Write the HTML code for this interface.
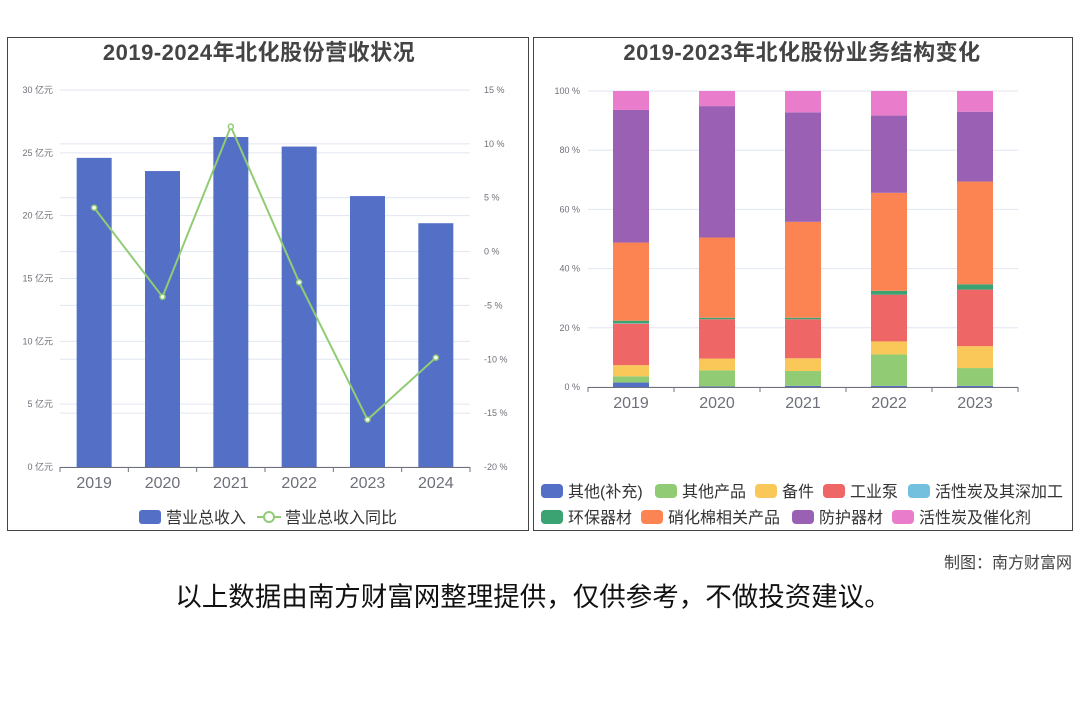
<!DOCTYPE html>
<html><head><meta charset="utf-8">
<style>
body{margin:0;background:#fff;width:1080px;height:720px;overflow:hidden;font-family:"Liberation Sans","Noto Sans CJK SC",sans-serif;}
svg text{font-family:"Liberation Sans","Noto Sans CJK SC",sans-serif;}
</style></head>
<body>
<svg width="1080" height="720" xmlns="http://www.w3.org/2000/svg">
<rect x="7.5" y="37.5" width="521" height="493" fill="none" stroke="#444"/>
<rect x="533.5" y="37.5" width="539" height="493" fill="none" stroke="#444"/>
<text x="259" y="60" text-anchor="middle" font-size="22" font-weight="bold" fill="#444" letter-spacing="0.5">2019-2024年北化股份营收状况</text>
<text x="802" y="60" text-anchor="middle" font-size="22" font-weight="bold" fill="#444" letter-spacing="0.5">2019-2023年北化股份业务结构变化</text>
<g id="left"></g>
<g id="right"></g>
<text x="1072" y="568" text-anchor="end" font-size="16" fill="#444">制图：南方财富网</text>
<text x="533" y="606" text-anchor="middle" font-size="26.5" fill="#111">以上数据由南方财富网整理提供，仅供参考，不做投资建议。</text>
</svg>
<script>
const NS="http://www.w3.org/2000/svg";
function mk(p,t,a,txt){const e=document.createElementNS(NS,t);for(const k in a)e.setAttribute(k,a[k]);if(txt!==undefined)e.textContent=txt;p.appendChild(e);return e;}
// left chart data
const years=["2019","2020","2021","2022","2023","2024"];
const revenue=[24.6,23.55,26.26,25.5,21.56,19.4];
const growth=[4.07,-4.2,11.6,-2.85,-15.6,-9.85];
const leftTicks=["0 亿元","5 亿元","10 亿元","15 亿元","20 亿元","25 亿元","30 亿元"];
const rightTicks=["-20 %","-15 %","-10 %","-5 %","0 %","5 %","10 %","15 %"];
// right chart data
const years2=["2019","2020","2021","2022","2023"];
const seriesNames=["其他(补充)","其他产品","备件","工业泵","活性炭及其深加工","环保器材","硝化棉相关产品","防护器材","活性炭及催化剂"];
const sOther=[1.5,0.2,0.4,0.4,0.4];
const sOtherProd=[2.1,5.4,5.0,10.6,6.0];
const sParts=[3.8,4.0,4.3,4.4,7.4];
const sPump=[14.0,13.3,13.2,15.8,19.1];
const sCarbonDeep=[0.1,0.0,0.0,0.0,0.0];
const sEnv=[0.9,0.5,0.5,1.3,1.8];
const sNitro=[26.4,27.1,32.4,33.1,34.7];
const sProtect=[44.8,44.4,37.0,26.1,23.6];
const sCatalyst=[6.4,5.1,7.2,8.3,7.0];
const pctTicks=["0 %","20 %","40 %","60 %","80 %","100 %"];
const colors=["#5470c6","#91cc75","#fac858","#ee6666","#73c0de","#3ba272","#fc8452","#9a60b4","#ea7ccc"];

// LEFT
const L=document.getElementById('left');
const lx0=60,lx1=470,ly0=467,ly1=90;
const xb=i=>lx0+(i+0.5)*(lx1-lx0)/years.length;
const yl=v=>ly0-(v/30)*(ly0-ly1);
const yr=v=>ly0-((v+20)/35)*(ly0-ly1);
leftTicks.forEach((t,i)=>{const y=yl(i*5);
 let g=mk(L,'line',{x1:lx0,x2:lx1,y1:y,y2:y,stroke:"#e0e6f1"});
 let tx=mk(L,'text',{x:53,y:y+3,"text-anchor":"end","font-size":9,fill:"#6e7079"},t);});
rightTicks.forEach((t,i)=>{const y=yr(-20+i*5);
 let g=mk(L,'line',{x1:lx0,x2:lx1,y1:y,y2:y,stroke:"#e0e6f1"});
 let tx=mk(L,'text',{x:484,y:y+3,"font-size":9,fill:"#6e7079"},t);});
const bw=35;
revenue.forEach((v,i)=>{let r=mk(L,'rect',{x:xb(i)-bw/2,y:yl(v),width:bw,height:ly0-yl(v),fill:"#5470c6"});
 });
let ax=mk(L,'line',{x1:lx0,x2:lx1,y1:ly0+.5,y2:ly0+.5,stroke:"#6e7079"});
years.forEach((t,i)=>{const x=lx0+i*(lx1-lx0)/years.length;
 let tk=mk(L,'line',{x1:x,x2:x,y1:ly0,y2:ly0+5,stroke:"#6e7079"});
 let tx=mk(L,'text',{x:xb(i),y:488,"text-anchor":"middle","font-size":16,fill:"#6e7079"},t);});
{let x=lx1;let tk=mk(L,'line',{x1:x,x2:x,y1:ly0,y2:ly0+5,stroke:"#6e7079"});}
let pl=mk(L,'polyline',{points:growth.map((v,i)=>xb(i)+","+yr(v)).join(" "),fill:"none",stroke:"#91cc75","stroke-width":2});

growth.forEach((v,i)=>{let c=mk(L,'circle',{cx:xb(i),cy:yr(v),r:2.5,fill:"#fff",stroke:"#91cc75","stroke-width":1.5});
 });
// left legend
{let r=mk(L,'rect',{x:139,y:510,width:22,height:14,rx:3,fill:"#5470c6"});
 let t=mk(L,'text',{x:166,y:523,"font-size":16,fill:"#333"},"营业总收入");
 let l=mk(L,'line',{x1:257,x2:281,y1:517,y2:517,stroke:"#91cc75","stroke-width":2});
 let c=mk(L,'circle',{cx:269,cy:517,r:5,fill:"#fff",stroke:"#91cc75","stroke-width":2});
 let t2=mk(L,'text',{x:285,y:523,"font-size":16,fill:"#333"},"营业总收入同比");}

// RIGHT
const R=document.getElementById('right');
const rx0=588,rx1=1018,ry0=387,ry1=91;
const xr=i=>rx0+(i+0.5)*(rx1-rx0)/years2.length;
const yp=v=>ry0-(v/100)*(ry0-ry1);
pctTicks.forEach((t,i)=>{const y=yp(i*20);
 let g=mk(R,'line',{x1:rx0,x2:rx1,y1:y,y2:y,stroke:"#e0e6f1"});
 let tx=mk(R,'text',{x:580,y:y+3,"text-anchor":"end","font-size":9,fill:"#6e7079"},t);});
const series=[sOther,sOtherProd,sParts,sPump,sCarbonDeep,sEnv,sNitro,sProtect,sCatalyst];
years2.forEach((yr2,i)=>{let acc=0;const tot=series.reduce((a,s)=>a+s[i],0);
 series.forEach((s,k)=>{const v=s[i]/tot*100;if(v<=0)return;
  let r=mk(R,'rect',{x:xr(i)-18,y:yp(acc+v),width:36,height:yp(acc)-yp(acc+v),fill:colors[k]});
  acc+=v;});});
let ax2=mk(R,'line',{x1:rx0,x2:rx1,y1:ry0+.5,y2:ry0+.5,stroke:"#6e7079"});
years2.forEach((t,i)=>{const x=rx0+i*(rx1-rx0)/years2.length;
 let tk=mk(R,'line',{x1:x,x2:x,y1:ry0,y2:ry0+5,stroke:"#6e7079"});
 let tx=mk(R,'text',{x:xr(i),y:408,"text-anchor":"middle","font-size":16,fill:"#6e7079"},t);});
{let tk=mk(R,'line',{x1:rx1,x2:rx1,y1:ry0,y2:ry0+5,stroke:"#6e7079"});}
const legX=[541,655,755,823,908,541,641,792,892];
seriesNames.forEach((n,k)=>{const row=k<5?0:1;const y=row?517:491;
 let r=mk(R,'rect',{x:legX[k],y:y-7,width:22,height:14,rx:4,fill:colors[k]});
 let t=mk(R,'text',{x:legX[k]+27,y:y+6,"font-size":16,fill:"#333"},n);});
</script>
</body></html>
